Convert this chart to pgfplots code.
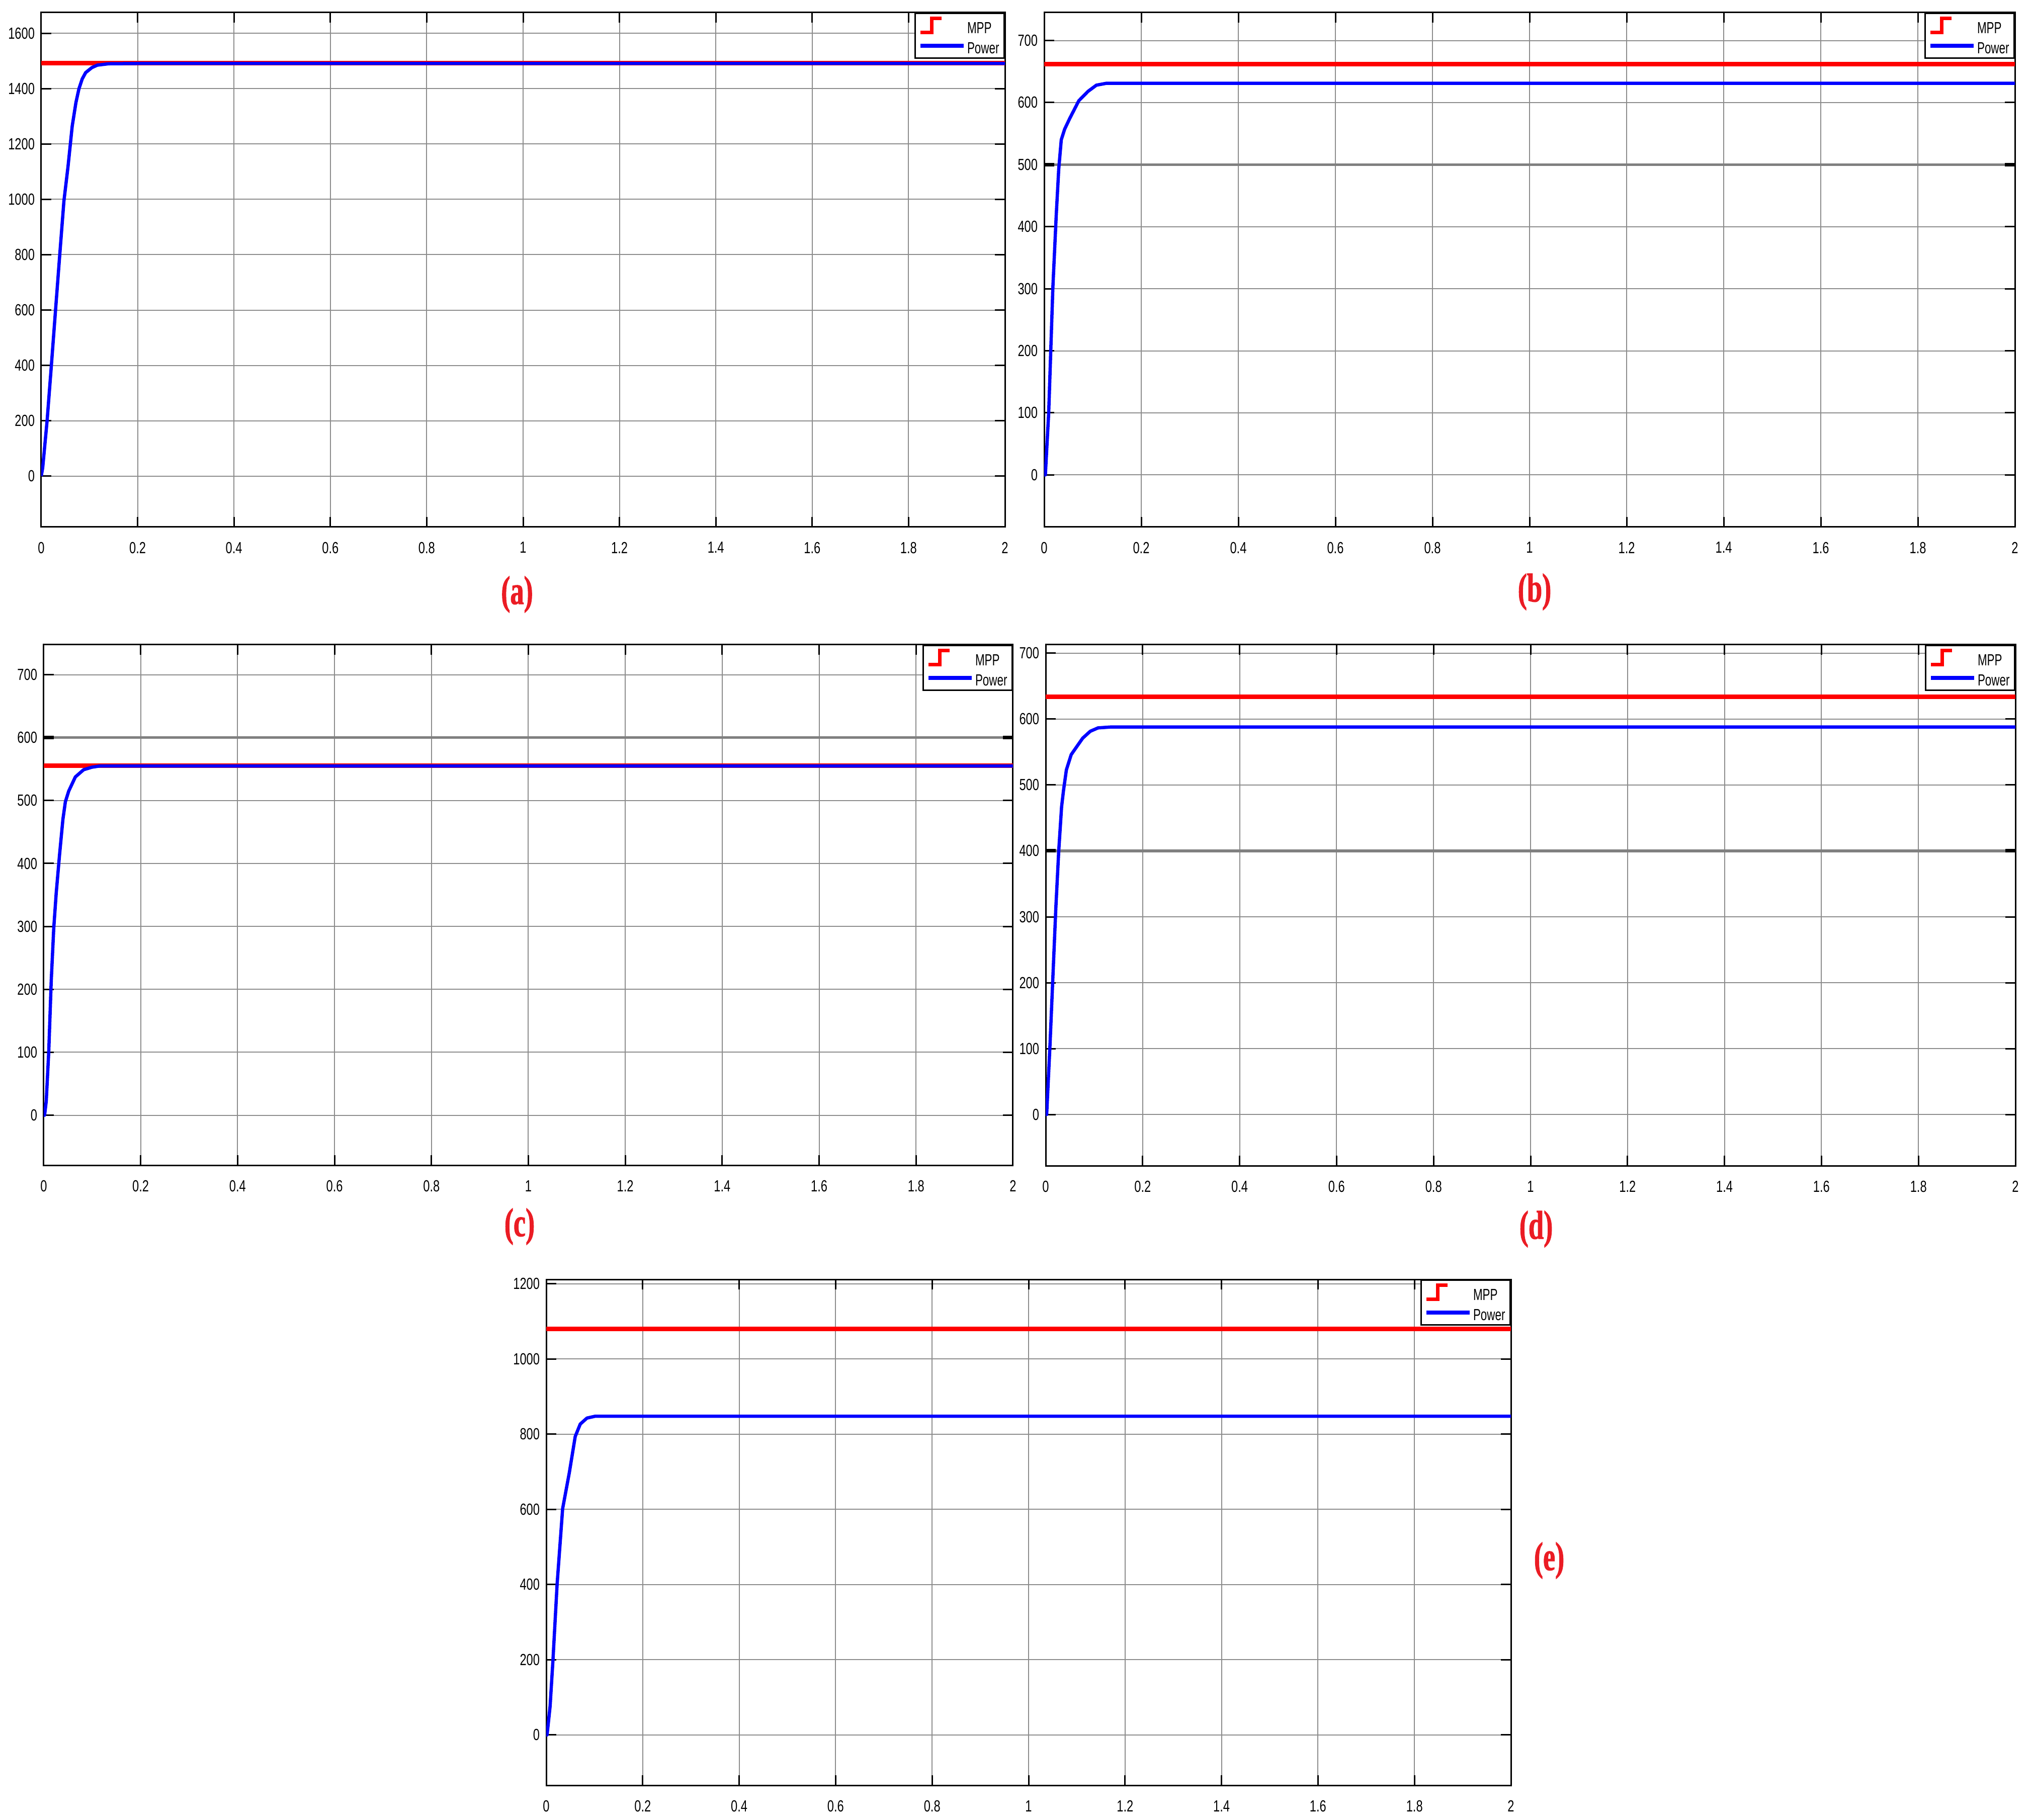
\documentclass[border=0pt]{standalone}
\usepackage{pgfplots}
\pgfplotsset{compat=1.18}
\usepackage{fontspec}
\setmainfont{Liberation Sans}
\newfontfamily\tickfont[FakeStretch=0.74]{Liberation Sans}
\newfontfamily\legfont[FakeStretch=0.70]{Liberation Sans}
\newfontfamily\labfont[FakeStretch=0.68,FakeBold=1.2]{Liberation Serif}
\definecolor{labred}{RGB}{235,28,36}
\pgfplotsset{
  panel/.style={
    scale only axis, anchor=north west,
    xmin=0, xmax=2,
    xtick={0,0.2,0.4,0.6,0.8,1,1.2,1.4,1.6,1.8,2},
    grid=major,
    grid style={black!45, line width=0.2pt},
    axis line style={line width=0.3pt},
    major tick length=2pt,
    tick style={black, line width=0.3pt},
    ticklabel style={font=\tickfont\fontsize{3.2pt}{3.4pt}\selectfont, inner sep=0.5pt},
    xticklabel style={yshift=-2.3pt},
    yticklabel style={xshift=-0.6pt},
    /pgf/number format/assume math mode=true,
    /pgf/number format/1000 sep={},
    legend cell align=left,
    legend style={at={(1,1)}, anchor=north east, draw=black, line width=0.3pt,
      fill=white, inner xsep=0.7pt, inner ysep=0.3pt, row sep=-0.29pt,
      font=\legfont\fontsize{3.2pt}{3.4pt}\selectfont,
      nodes={inner sep=0.3pt, text height=3.39pt, text depth=0.3pt}},
  },
  mpp/.style={red, line width=0.85pt,
    legend image code/.code={\draw[red, line width=0.7pt] (0pt,-1.4pt) -- (2.2pt,-1.4pt) -- (2.2pt,1.4pt) -- (4.2pt,1.4pt);}},
  pow/.style={blue, line width=0.65pt, line join=round,
    legend image code/.code={\draw[blue, line width=0.75pt] (0pt,0pt) -- (8.6pt,0pt);}},
}
\begin{document}
\begin{tikzpicture}
\useasboundingbox (0,0) rectangle (403.8pt,361.8pt);
% (a)
\begin{axis}[panel, at={(8.2pt,359.3pt)}, width=191.6pt, height=102.3pt,
  ymin=-184, ymax=1675, ytick={0,200,400,600,800,1000,1200,1400,1600}]
\addplot[mpp] coordinates {(0,1492) (2,1492)};
\addlegendentry{MPP}
\addplot[pow] coordinates {(0,0) (0.003,30) (0.0121,199) (0.0209,397) (0.0295,596) (0.0382,795) (0.047,993) (0.0556,1119) (0.0643,1265) (0.072,1350) (0.0783,1400) (0.085,1435) (0.0922,1458) (0.105,1476) (0.1165,1485) (0.14,1490) (0.2,1491) (2,1491)};
\addlegendentry{Power}
\end{axis}
% (b)
\begin{axis}[panel, at={(207.6pt,359.3pt)}, width=193.0pt, height=102.3pt,
  ymin=-84, ymax=745, ytick={0,100,200,300,400,500,600,700},
  extra y ticks={500}, extra y tick labels={},
  extra y tick style={grid style={black!50, line width=0.55pt}, tick style={line width=0.7pt}}]
\addplot[mpp] coordinates {(0,662) (2,662)};
\addlegendentry{MPP}
\addplot[pow] coordinates {(0,0) (0.0024,0) (0.0093,100) (0.0179,302) (0.0248,418) (0.030,493) (0.0352,540) (0.0421,557) (0.0524,574) (0.0714,603) (0.0903,618) (0.1076,628) (0.128,631) (2,631)};
\addlegendentry{Power}
\end{axis}
% (c)
\begin{axis}[panel, at={(8.7pt,233.6pt)}, width=192.7pt, height=103.5pt,
  ymin=-79.5, ymax=747.6, ytick={0,100,200,300,400,500,600,700},
  extra y ticks={600}, extra y tick labels={},
  extra y tick style={grid style={black!50, line width=0.55pt}, tick style={line width=0.7pt}}]
\addplot[mpp] coordinates {(0,555.4) (2,555.4)};
\addlegendentry{MPP}
\addplot[pow] coordinates {(0,0) (0.0017,0) (0.0051,22) (0.0103,101) (0.0154,213) (0.0206,297) (0.0257,353) (0.0326,414) (0.0395,470) (0.0446,498) (0.0515,515) (0.0652,537.5) (0.0823,549) (0.0995,553) (0.1166,555) (2,555)};
\addlegendentry{Power}
\end{axis}
% (d)
\begin{axis}[panel, at={(207.9pt,233.6pt)}, width=192.8pt, height=103.6pt,
  ymin=-77.7, ymax=712.8, ytick={0,100,200,300,400,500,600,700},
  extra y ticks={400}, extra y tick labels={},
  extra y tick style={grid style={black!50, line width=0.55pt}, tick style={line width=0.7pt}}]
\addplot[mpp] coordinates {(0,634) (2,634)};
\addlegendentry{MPP}
\addplot[pow] coordinates {(0,0) (0.002,0) (0.0091,109) (0.015,211) (0.0209,313) (0.0269,400) (0.0328,467) (0.0368,492) (0.0427,523) (0.0526,546) (0.0644,558.5) (0.0763,571) (0.092,581.5) (0.108,586.6) (0.1356,588) (2,588)};
\addlegendentry{Power}
\end{axis}
% (e)
\begin{axis}[panel, at={(108.6pt,107.4pt)}, width=191.8pt, height=100.6pt,
  ymin=-134, ymax=1212, ytick={0,200,400,600,800,1000,1200}]
\addplot[mpp] coordinates {(0,1080) (2,1080)};
\addlegendentry{MPP}
\addplot[pow] coordinates {(0,0) (0.0017,0) (0.008,76) (0.0139,198) (0.0226,402) (0.034,602) (0.0479,698) (0.0601,794) (0.0705,827) (0.0844,843) (0.1017,848) (2,848)};
\addlegendentry{Power}
\end{axis}
\begin{scope}[every node/.style={text=labred, font=\labfont\bfseries\fontsize{8pt}{8pt}\selectfont}]
\node at (102.8pt,243.6pt) {(a)};
\node at (305.1pt,244.1pt) {(b)};
\node at (103.3pt,117.9pt) {(c)};
\node at (305.4pt,117.4pt) {(d)};
\node at (308.0pt,51.5pt) {(e)};
\end{scope}
\end{tikzpicture}
\end{document}
